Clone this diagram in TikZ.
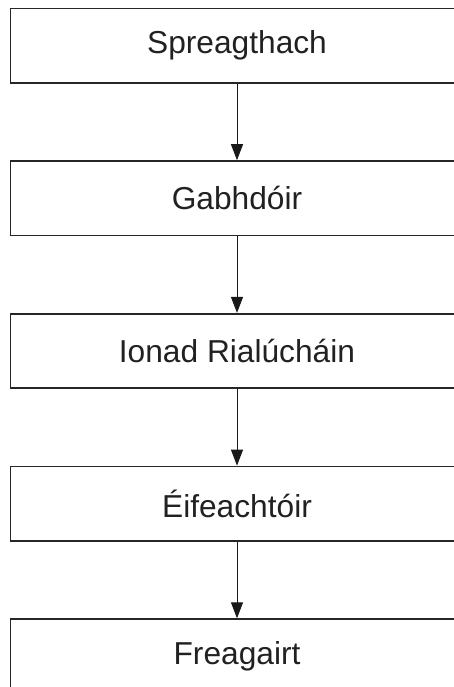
\documentclass[tikz,border=0pt]{standalone}
\usepackage{fontspec}
\setmainfont{Liberation Sans}
\usepackage{tikz}
\usetikzlibrary{positioning}
\usetikzlibrary{arrows.meta}
\newcommand{\pagesizex}{227pt}
\newcommand{\pagesizey}{343.5pt}
\newcommand{\boxsizex}{226.5pt}
\newcommand{\boxsizey}{37.2pt}
\newcommand{\boxgap}{38.35pt}
\newcommand{\boxcx}{118.5pt}
\newcommand{\boxcy}{-45.5*0.5pt}

\begin{document}
\begin{tikzpicture}[
    font=\fontsize{15.85}{19}\selectfont,
    stagebox/.style={draw=black!85, line width=0.8pt, text=black!87,
      minimum width=\boxsizex, minimum height=\boxsizey, inner sep=0pt},
    flowarrow/.style={draw=black!90, line width=0.5pt,
      -{Triangle[length=8pt,width=6pt]}}
  ]
    % page frame
    \useasboundingbox (0,0) rectangle (\pagesizex,-\pagesizey);
    % stages
    \node[stagebox] (spreag) at (\boxcx,\boxcy) {Spreagthach};
    \node[stagebox, below=\boxgap of spreag] (gabh) {Gabhdóir};
    \node[stagebox, below=\boxgap of gabh] (ionad) {Ionad Rialúcháin};
    \node[stagebox, below=\boxgap of ionad] (eif) {Éifeachtóir};
    \node[stagebox, below=\boxgap of eif] (freag) {Freagairt};
    % arrows
    \draw[flowarrow] (spreag) -- (gabh);
    \draw[flowarrow] (gabh) -- (ionad);
    \draw[flowarrow] (ionad) -- (eif);
    \draw[flowarrow] (eif) -- (freag);
  \end{tikzpicture}
\end{document}
